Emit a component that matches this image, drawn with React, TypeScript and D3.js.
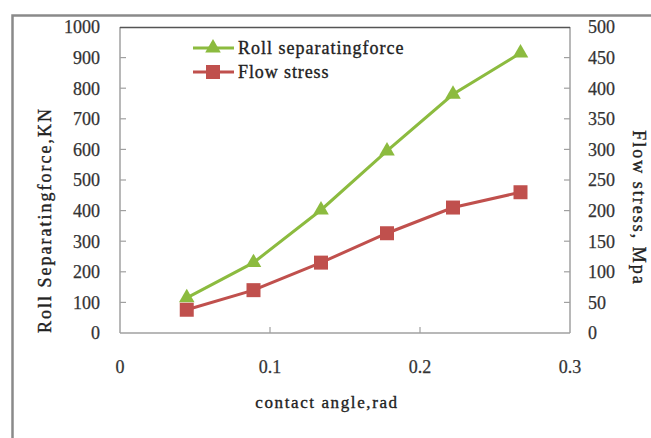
import React from "react";
import * as d3 from "d3";

const angles = [0.0445, 0.089, 0.134, 0.178, 0.222, 0.267];
const rollForce = [115, 230, 402, 595, 780, 915];
const flowStress = [38, 70, 115, 163, 205, 230];
const leftTicks = [0, 100, 200, 300, 400, 500, 600, 700, 800, 900, 1000];
const rightTicks = [0, 50, 100, 150, 200, 250, 300, 350, 400, 450, 500];
const xTicks = [0, 0.1, 0.2, 0.3];
const seriesNames = ["Roll separatingforce", "Flow stress"];

const W = 651;
const H = 438;
const FONT = "'Liberation Serif', 'Times New Roman', serif";

export default function App() {
  const x = d3.scaleLinear().domain([0, 0.3]).range([120, 570]);
  const yL = d3.scaleLinear().domain([0, 1000]).range([333, 27]);
  const yR = d3.scaleLinear().domain([0, 500]).range([333, 27]);

  const green = "#8cbb3f";
  const red = "#c0504d";

  const lineL = d3
    .line<number>()
    .x((_, i) => x(angles[i]))
    .y((d) => yL(d));
  const lineR = d3
    .line<number>()
    .x((_, i) => x(angles[i]))
    .y((d) => yR(d));

  const tri = d3.symbol().type(d3.symbolTriangle).size(105)();
  const sq = d3.symbol().type(d3.symbolSquare).size(196)();

  const tickStyle = { fontSize: 18, fill: "#333", stroke: "#333", strokeWidth: 0.25 };
  const titleStyle = { fill: "#222", stroke: "#222", strokeWidth: 0.35 };

  return (
    <svg
      width={W}
      height={H}
      style={{ position: "absolute", left: 0, top: 0, background: "#fff" }}
      fontFamily={FONT}
    >
      <rect x={0} y={0} width={W} height={H} fill="#fff" />
      {/* outer frame */}
      <path d={`M12.5,${H} V15.5 H${W}`} fill="none" stroke="#8a8a8a" strokeWidth={2.5} />

      {/* plot border */}
      <line x1={120} x2={120} y1={27} y2={333} stroke="#a0a0a0" strokeWidth={1.5} />
      <line x1={570} x2={570} y1={27} y2={333} stroke="#a0a0a0" strokeWidth={1.5} />
      <line x1={120} x2={570} y1={333} y2={333} stroke="#a0a0a0" strokeWidth={1.5} />
      <line x1={120} x2={570} y1={27.5} y2={27.5} stroke="#555" strokeWidth={1.5} />

      {/* left ticks */}
      {leftTicks.map((t) => (
        <g key={"l" + t}>
          {t > 0 && t < 1000 && (
            <line x1={120} x2={126} y1={yL(t)} y2={yL(t)} stroke="#a0a0a0" strokeWidth={1.2} />
          )}
          <text x={100} y={yL(t)} dy="0.35em" textAnchor="end" {...tickStyle}>
            {t}
          </text>
        </g>
      ))}
      {/* right ticks */}
      {rightTicks.map((t) => (
        <g key={"r" + t}>
          {t > 0 && t < 500 && (
            <line x1={564} x2={570} y1={yR(t)} y2={yR(t)} stroke="#a0a0a0" strokeWidth={1.2} />
          )}
          <text x={588} y={yR(t)} dy="0.35em" textAnchor="start" {...tickStyle}>
            {t}
          </text>
        </g>
      ))}
      {/* x ticks */}
      {xTicks.map((t) => (
        <g key={"x" + t}>
          {t > 0 && t < 0.3 && (
            <line x1={x(t)} x2={x(t)} y1={333} y2={327} stroke="#a0a0a0" strokeWidth={1.2} />
          )}
          <text x={x(t)} y={367} dy="0.35em" textAnchor="middle" {...tickStyle}>
            {t}
          </text>
        </g>
      ))}

      {/* series */}
      <path d={lineL(rollForce) || ""} fill="none" stroke={green} strokeWidth={3} />
      <path d={lineR(flowStress) || ""} fill="none" stroke={red} strokeWidth={3} />
      {rollForce.map((v, i) => (
        <path key={"g" + i} d={tri || ""} transform={`translate(${x(angles[i])},${yL(v)})`} fill={green} />
      ))}
      {flowStress.map((v, i) => (
        <path key={"s" + i} d={sq || ""} transform={`translate(${x(angles[i])},${yR(v)})`} fill={red} />
      ))}

      {/* legend */}
      <line x1={193} x2={234} y1={48} y2={48} stroke={green} strokeWidth={3} />
      <path d={tri || ""} transform="translate(213,48)" fill={green} />
      <text x={238} y={48} dy="0.35em" fontSize={18} letterSpacing={1} {...titleStyle}>
        {seriesNames[0]}
      </text>
      <line x1={193} x2={234} y1={72} y2={72} stroke={red} strokeWidth={3} />
      <path d={sq || ""} transform="translate(213,72)" fill={red} />
      <text x={238} y={72} dy="0.35em" fontSize={18} letterSpacing={0.9} {...titleStyle}>
        {seriesNames[1]}
      </text>

      {/* axis titles */}
      <text
        x={327}
        y={403}
        dy="0.3em"
        textAnchor="middle"
        fontSize={17}
        letterSpacing={1.6}
        {...titleStyle}
      >
        contact angle,rad
      </text>
      <text
        transform="translate(45,220) rotate(-90)"
        dy="0.35em"
        textAnchor="middle"
        fontSize={18}
        letterSpacing={2}
        {...titleStyle}
      >
        Roll Separatingforce,KN
      </text>
      <text
        transform="translate(639,208) rotate(90)"
        dy="0.35em"
        textAnchor="middle"
        fontSize={18}
        letterSpacing={2}
        {...titleStyle}
      >
        Flow stress, Mpa
      </text>
    </svg>
  );
}
